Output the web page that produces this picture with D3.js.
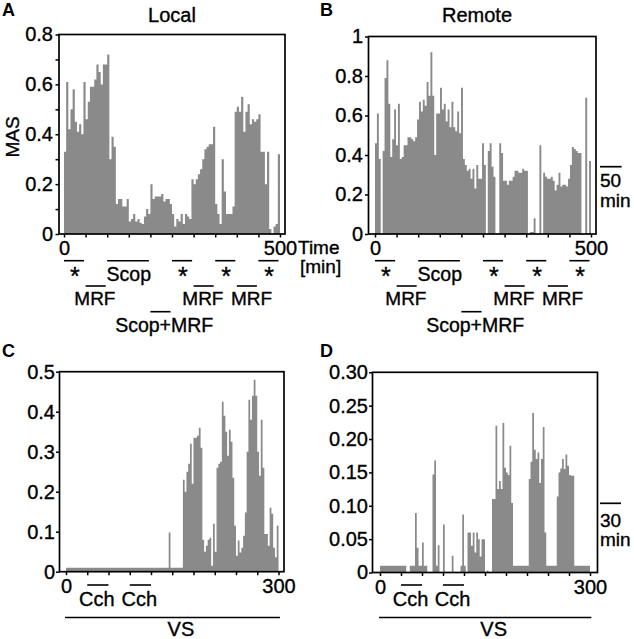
<!DOCTYPE html>
<html><head><meta charset="utf-8">
<script src="https://cdn.jsdelivr.net/npm/d3@7"></script>
<style>body{margin:0;background:#fff}svg{display:block}</style>
</head><body><svg id="c" width="634" height="639"></svg>
<script>
// ---------- DATA ----------
// Panel A: Local MAS, 5-min bins over 0-500 min
const localMAS = [
 0.33,0.61,0.42,0.50,0.58,0.45,0.41,0.44,0.40,0.61,
 0.46,0.53,0.59,0.59,0.62,0.68,0.65,0.60,0.68,0.68,
 0.72,0.30,0.39,0.35,0.12,0.14,0.14,0.11,0.11,0.14,
 0.05,0.06,0.08,0.05,0.06,0.045,0.04,0.07,0.10,0.08,
 0.20,0.14,0.15,0.15,0.15,0.16,0.13,0.14,0.14,0.12,
 0.08,0.03,0.06,0.05,0.08,0.04,0.08,0.07,0.06,0.22,
 0.20,0.22,0.24,0.26,0.30,0.34,0.35,0.36,0.36,0.43,
 0.12,0.08,0.04,0.30,0.17,0.08,0.08,0.08,0.11,0.49,
 0.51,0.49,0.55,0.41,0.49,0.52,0.44,0.46,0.45,0.46,
 0.48,0.33,0.33,0.20,0.33,0.02,0,0.03,0.04,0.32
];
// Panel B: Remote MAS over 0-500 min
const remoteMAS = [
 0.46,0.61,0.38,0,0.42,0.79,0.88,0.66,0.39,0.48,
 0.63,0.45,0.66,0.38,0.39,0.45,0.45,0.49,0.49,0.48,
 0.47,0.49,0.58,0.67,0.62,0.68,0.65,0.77,0.70,0.92,
 0.70,0.40,0.61,0.61,0.74,0.63,0.66,0.57,0.63,0.54,
 0.67,0.54,0.52,0.62,0.51,0.74,0.38,0.35,0.32,0.33,
 0.28,0.33,0.23,0.35,0.28,0.28,0.46,0.35,0,0.42,
 0.46,0.34,0.29,0,0,0.46,0.41,0.27,0.27,0.25,
 0.27,0.27,0.29,0.32,0.32,0.31,0.31,0.33,0.32,0.32,
 0,0.01,0.01,0.08,0,0,0.45,0,0.31,0.29,
 0.28,0.28,0.29,0.27,0.22,0.25,0.31,0.24,0.25,0.25,
 0.24,0.28,0.35,0.44,0.43,0.42,0.41,0.41,0,0,
 0.69,0,0.37
];
// Panel C: Local MAS, 2.5-min bins over 0-300 min
const cchLocal = [
 0.01,0.01,0.01,0.01,0.01,0.01,0.01,0.01,0.01,0.01,
 0.01,0.01,0.01,0.01,0.01,0.01,0.01,0.01,0.01,0.01,
 0.01,0.01,0.01,0.01,0.01,0.01,0.01,0.01,0.01,0.01,
 0.01,0.01,0.01,0.01,0.01,0.01,0.01,0.01,0.01,0.01,
 0.01,0.01,0.01,0.01,0.01,0.01,0.01,0.01,0.01,0.01,
 0.01,0.01,0.01,0.01,0.01,0.01,0.01,0.01,0.098,0.01,
 0.01,0.01,0.01,0.01,0.01,0.01,0.23,0.20,0.25,0.27,
 0.32,0.22,0.335,0.335,0.34,0.36,0.31,0.08,0.05,0.065,
 0.08,0.085,0.015,0.12,0.05,0.26,0.27,0.275,0.425,0.39,
 0.35,0.29,0.355,0.325,0.235,0.115,0.04,0.078,0.048,0.06,
 0.09,0.148,0.30,0.43,0.38,0.44,0.48,0.44,0.30,0.24,
 0.38,0.26,0.094,0.094,0.065,0.16,0.145,0.06,0.036,0.115
];
// Panel D: Remote MAS, 2.5-min bins over 0-300 min
const cchRemote = [
 0.01,0.01,0.01,0.01,0.01,0.01,0.01,0.01,0.01,0.01,
 0.01,0.01,0.01,0.01,0.01,0,0,0.01,0.01,0.01,
 0.089,0.037,0.01,0.01,0.045,0.01,0.01,0,0,0,
 0.147,0.168,0.01,0.041,0,0,0.072,0,0,0,
 0,0.025,0,0,0,0,0.01,0.087,0.01,0,
 0.06,0.06,0.04,0.06,0.03,0.06,0.05,0.024,0.05,0.05,
 0,0.003,0,0,0.11,0.11,0.22,0.125,0.137,0.125,
 0.224,0.157,0.15,0.146,0.19,0.104,0.01,0.01,0.01,0.01,
 0.01,0.01,0.01,0.01,0.01,0.14,0.166,0.239,0.184,0.17,
 0.18,0.134,0.17,0.218,0.06,0.01,0.01,0.01,0.01,0.01,
 0.01,0.114,0.15,0.156,0.17,0.155,0.177,0.16,0.146,0.145,
 0.145,0.01,0.01,0.01,0.01,0.01,0.01,0.01,0.01,0.01
];
// Tick values / labels
const yTicksA = [0,0.1,0.2,0.3,0.4,0.5,0.6,0.7,0.8];
const yLabelsA = ["0","","0.2","","0.4","","0.6","","0.8"];
const yTicksB = [0,0.2,0.4,0.6,0.8,1];
const yLabelsB = ["0","0.2","0.4","0.6","0.8","1"];
const yTicksC = [0,0.1,0.2,0.3,0.4,0.5];
const yLabelsC = ["0","0.1","0.2","0.3","0.4","0.5"];
const yTicksD = [0,0.05,0.10,0.15,0.20,0.25,0.30];
const yLabelsD = ["0","0.05","0.10","0.15","0.20","0.25","0.30"];
const xTicksAB = [0,50,100,150,200,250,300,350,400,450,500];
const xLabelsAB = ["0","","","","","","","","","","500"];
const xTicksCD = [0,30,60,90,120,150,180,210,240,270,300];
const xLabelsCD = ["0","","","","","","","","","","300"];
// Treatment intervals (min)
const starIntervals = [[0,50],[250,300],[350,400],[450,500]];
const scopIntervals = [[100,200]];
const mrfIntervals = [[50,100],[300,350],[400,450]];
const scopMrfIntervals = [[200,250]];
const cchIntervals = [[30,60],[90,120]];
const vsInterval = [[0,302]];

// ---------- DRAW ----------
const FONT = '"Liberation Sans", Arial, Helvetica, sans-serif';
const BAR = "#8a8a8a";
const TS = 0.35; // slight text thickening
const svg = d3.select("#c");
svg.append("rect").attr("width",634).attr("height",639).attr("fill","#fff");

function txt(x, y, s, opts = {}) {
  return svg.append("text").attr("x", x).attr("y", y).text(s)
    .attr("font-family", FONT).attr("font-size", opts.size || 20)
    .attr("font-weight", opts.bold ? "bold" : "normal")
    .attr("text-anchor", opts.anchor || "start").attr("fill", "#000")
    .attr("stroke", "#000").attr("stroke-width", opts.bold ? 0 : TS);
}
function hline(x1, x2, y, sw = 1.6) {
  svg.append("line").attr("x1", x1).attr("x2", x2).attr("y1", y).attr("y2", y)
    .attr("stroke", "#000").attr("stroke-width", sw);
}

function panel(p) {
  const x = d3.scaleLinear().domain([0, p.tMax]).range(p.xr);
  const y = d3.scaleLinear().domain([0, p.yMax]).range([p.yb, p.yt]);
  const g = svg.append("g");
  const w = p.tMax / p.values.length;
  const pts = p.values.map((v, i) => [i * w, v]);
  pts.push([p.tMax, p.values[p.values.length - 1]]);
  const area = d3.area().curve(d3.curveStepAfter)
    .x(d => x(d[0])).y0(y(0)).y1(d => y(d[1]));
  g.append("path").datum(pts).attr("d", area).attr("fill", BAR);
  g.append("rect").attr("x", p.fl).attr("y", p.yt).attr("width", p.fr - p.fl)
    .attr("height", p.yb - p.yt).attr("fill", "none").attr("stroke", "#000").attr("stroke-width", 1.7);
  const ya = d3.axisLeft(y).tickValues(p.yTicks).tickSize(3.5).tickPadding(p.yPad)
    .tickFormat((d, i) => p.yLabels[i]);
  const gy = g.append("g").attr("transform", `translate(${p.fl},0)`).call(ya);
  const xa = d3.axisBottom(x).tickValues(p.xTicks).tickSize(3.5).tickPadding(3.5)
    .tickFormat((d, i) => p.xLabels[i]);
  const gx = g.append("g").attr("transform", `translate(0,${p.yb})`).call(xa);
  [gy, gx].forEach(a => {
    a.select(".domain").remove();
    a.selectAll(".tick line").attr("stroke", "#000").attr("stroke-width", 1.5);
    a.selectAll(".tick text").attr("font-family", FONT).attr("font-size", 20).attr("fill", "#000")
      .attr("stroke", "#000").attr("stroke-width", TS);
  });
  return x;
}

// Panel A
const xA = panel({values: localMAS, tMax: 500, xr: [64, 280], yMax: 0.8, yb: 234, yt: 34.5,
  fl: 59, fr: 285, yTicks: yTicksA, yLabels: yLabelsA, yPad: 2.5, xTicks: xTicksAB, xLabels: xLabelsAB});
// Panel B
const xB = panel({values: remoteMAS, tMax: 500, xr: [375, 591], yMax: 1, yb: 234, yt: 36.5,
  fl: 368.5, fr: 596, yTicks: yTicksB, yLabels: yLabelsB, yPad: 2, xTicks: xTicksAB, xLabels: xLabelsAB});
// Panel C
const xC = panel({values: cchLocal, tMax: 300, xr: [66, 278.5], yMax: 0.5, yb: 571.7, yt: 371.7,
  fl: 59.5, fr: 284, yTicks: yTicksC, yLabels: yLabelsC, yPad: 1, xTicks: xTicksCD, xLabels: xLabelsCD});
// Panel D
const xD = panel({values: cchRemote, tMax: 300, xr: [380, 590], yMax: 0.3, yb: 572.5, yt: 372.3,
  fl: 372.5, fr: 597.5, yTicks: yTicksD, yLabels: yLabelsD, yPad: 1, xTicks: xTicksCD, xLabels: xLabelsCD});

// Panel letters and titles
txt(2, 16, "A", {bold: true, size: 18});
txt(320, 16, "B", {bold: true, size: 18});
txt(2, 357, "C", {bold: true, size: 18});
txt(320, 357, "D", {bold: true, size: 18});
txt(172, 22, "Local", {anchor: "middle"});
txt(477, 22, "Remote", {anchor: "middle"});
svg.append("text").attr("transform", "translate(19,137) rotate(-90)").attr("text-anchor", "middle")
  .attr("font-family", FONT).attr("font-size", 19).attr("stroke", "#000").attr("stroke-width", TS).text("MAS");
txt(298, 254, "Time", {size: 19});
txt(300, 273, "[min]", {size: 19});

// Scale bars
hline(600, 621.6, 166.7, 1.7); txt(600, 187, "50", {size: 19}); txt(600, 207, "min", {size: 19});
hline(600, 621, 503.3, 1.7); txt(600, 527, "30", {size: 19}); txt(600, 546, "min", {size: 19});

// Treatment annotations for A and B
const mrfShift = [-1.5, -1.5, 4];
[xA, xB].forEach(x => {
  starIntervals.forEach(([a, b]) => { hline(x(a), x(b) - 1.5, 260.7); txt((x(a) + x(b)) / 2, 285, "*", {anchor: "middle", size: 25}); });
  scopIntervals.forEach(([a, b]) => { hline(x(a), x(b) - 1.5, 260.7); txt((x(a) + x(b)) / 2, 280.5, "Scop", {anchor: "middle", size: 19.5}); });
  mrfIntervals.forEach(([a, b], i) => { hline(x(a), x(b) - 1.5, 286); txt((x(a) + x(b)) / 2 + mrfShift[i], 305, "MRF", {anchor: "middle", size: 19}); });
  scopMrfIntervals.forEach(([a, b]) => { hline(x(a), x(b) - 1.5, 311.7); txt((x(a) + x(b)) / 2 + 3, 331.5, "Scop+MRF", {anchor: "middle", size: 19.5}); });
});
// Treatment annotations for C and D
[xC, xD].forEach(x => {
  cchIntervals.forEach(([a, b]) => { hline(x(a), x(b), 585); txt((x(a) + x(b)) / 2 - 1, 606, "Cch", {anchor: "middle"}); });
  vsInterval.forEach(([a, b]) => { hline(x(a) - 1, x(b), 617.5, 1.3); txt((x(a) + x(b)) / 2 + 8, 636, "VS", {anchor: "middle"}); });
});
</script></body></html>
